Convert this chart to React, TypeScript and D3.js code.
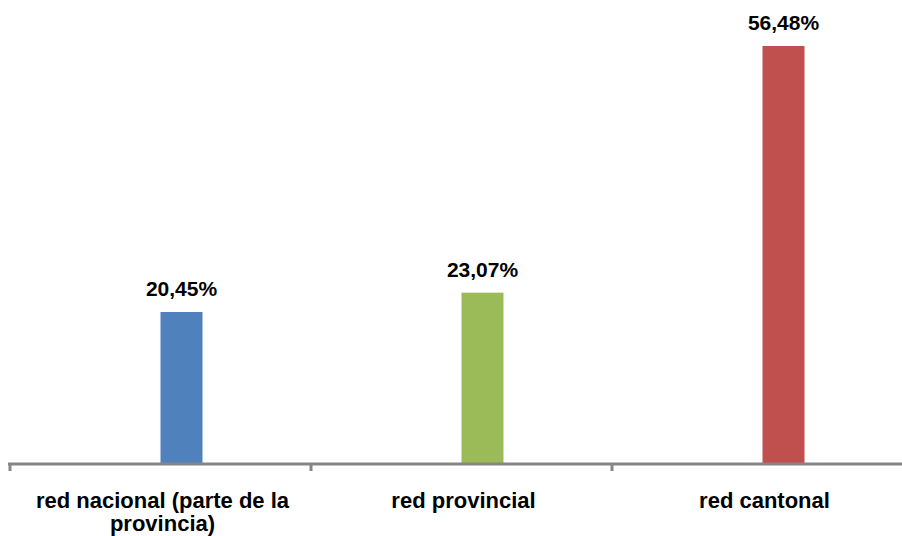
import React, { useEffect, useRef } from "react";
import * as d3 from "d3";

const categories = ["red nacional (parte de la provincia)", "red provincial", "red cantonal"];
const values = [20.45, 23.07, 56.48];
const valueLabels = ["20,45%", "23,07%", "56,48%"];
const colors = ["#4F81BD", "#9BBB59", "#C0504D"];

const W = 902;
const H = 536;

export default function App() {
  const ref = useRef<SVGSVGElement | null>(null);

  useEffect(() => {
    const svg = d3.select(ref.current);
    svg.selectAll("*").remove();

    const x = d3.scaleBand<string>().domain(categories).range([10, 913]).padding(0);
    const y = d3.scaleLinear().domain([0, 60]).range([463, 20]);
    const bw = x.bandwidth();
    const barW = 42;
    const font = "'Liberation Sans', Arial, sans-serif";

    // bars
    svg
      .selectAll("rect.bar")
      .data(values)
      .enter()
      .append("rect")
      .attr("class", "bar")
      .attr("x", (_d, i) => (x(categories[i]) as number) + bw / 2)
      .attr("width", barW)
      .attr("y", (d) => y(d))
      .attr("height", (d) => y(0) - y(d))
      .attr("fill", (_d, i) => colors[i]);

    // value labels
    svg
      .selectAll("text.val")
      .data(values)
      .enter()
      .append("text")
      .attr("class", "val")
      .attr("x", (_d, i) => (x(categories[i]) as number) + bw / 2 + barW / 2)
      .attr("y", (d) => y(d) - 16)
      .attr("text-anchor", "middle")
      .attr("font-family", font)
      .attr("font-weight", "bold")
      .attr("font-size", 21)
      .attr("fill", "#000")
      .text((_d, i) => valueLabels[i]);

    // axis line
    svg
      .append("line")
      .attr("x1", 8)
      .attr("x2", 913)
      .attr("y1", y(0) + 1)
      .attr("y2", y(0) + 1)
      .attr("stroke", "#868686")
      .attr("stroke-width", 3);

    // ticks
    const tickXs = categories.map((c) => x(c) as number).concat([913]);
    svg
      .selectAll("line.tick")
      .data(tickXs)
      .enter()
      .append("line")
      .attr("class", "tick")
      .attr("x1", (d) => d)
      .attr("x2", (d) => d)
      .attr("y1", y(0))
      .attr("y2", y(0) + 8)
      .attr("stroke", "#868686")
      .attr("stroke-width", 3);

    // category labels with wrapping
    const maxW = 290;
    const baseY = 508;
    const lineH = 23;
    categories.forEach((c) => {
      const cx = (x(c) as number) + bw / 2 + 2;
      const t = svg
        .append("text")
        .attr("x", cx)
        .attr("y", baseY)
        .attr("text-anchor", "middle")
        .attr("font-family", font)
        .attr("font-weight", "bold")
        .attr("font-size", 22)
        .attr("fill", "#000");
      const words = c.split(" ");
      let line: string[] = [];
      let lineNo = 0;
      let tspan = t.append("tspan").attr("x", cx).attr("y", baseY);
      words.forEach((w) => {
        line.push(w);
        tspan.text(line.join(" "));
        const node = tspan.node() as SVGTSpanElement;
        if (node.getComputedTextLength() > maxW && line.length > 1) {
          line.pop();
          tspan.text(line.join(" "));
          line = [w];
          lineNo++;
          tspan = t
            .append("tspan")
            .attr("x", cx)
            .attr("y", baseY + lineNo * lineH)
            .text(w);
        }
      });
    });
  }, []);

  return (
    <svg
      ref={ref}
      width={W}
      height={H}
      style={{ position: "absolute", left: 0, top: 0, background: "#fff", display: "block" }}
    />
  );
}
